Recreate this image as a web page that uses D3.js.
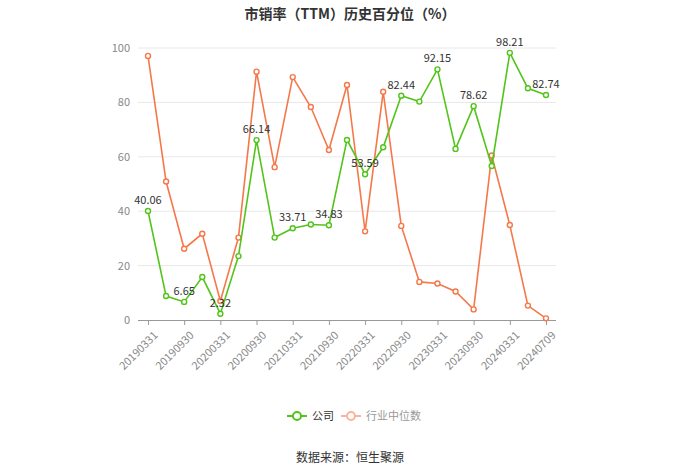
<!DOCTYPE html>
<html><head><meta charset="utf-8">
<script src="https://cdn.jsdelivr.net/npm/d3@7/dist/d3.min.js"></script>
<style>body{margin:0;background:#fff}svg{display:block;font-family:"Noto Sans CJK SC","Noto Sans",sans-serif}</style>
</head><body><svg id="c" width="700" height="474"></svg>
<script>
const dates = ["20190331","20190630","20190930","20191231","20200331","20200630","20200930","20201231","20210331","20210630","20210930","20211231","20220331","20220630","20220930","20221231","20230331","20230630","20230930","20231231","20240331","20240630","20240709"];
const company = [40.06,8.8,6.65,15.8,2.32,23.5,66.14,30.3,33.71,35.1,34.83,66.2,53.59,63.5,82.44,80.3,92.15,62.9,78.62,56.6,98.21,85.2,82.74];
const industry = [97.1,50.9,26.2,31.7,7.0,30.3,91.3,56.2,89.3,78.3,62.5,86.4,32.6,83.9,34.6,14.0,13.4,10.5,3.9,60.5,34.9,5.3,0.6];
const yTicks = [0,20,40,60,80,100];
const seriesNames = ["公司","行业中位数"];
const colors = ["#52c41a","#f5784a"];

(function(){
const svg = d3.select("#c");
const pl=148,pr=546,pt=48,pb=320;
const x = d3.scalePoint().domain(dates).range([pl,pr]);
const y = d3.scaleLinear().domain([0,100]).range([pb,pt]);

svg.append("text").attr("x",350).attr("y",19).attr("text-anchor","middle")
  .attr("font-size",14).attr("font-weight","bold").attr("fill","#333").text("市销率（TTM）历史百分位（%）");

// grid
svg.append("g").selectAll("line").data(yTicks.filter(d=>d>0)).join("line")
  .attr("x1",pl-10).attr("x2",pr+10).attr("y1",d=>y(d)).attr("y2",d=>y(d))
  .attr("stroke","#e8e8e8").attr("stroke-width",1);

// y axis labels
const ya = svg.append("g").attr("transform",`translate(${pl-10},0)`)
  .call(d3.axisLeft(y).tickValues(yTicks).tickSize(0).tickPadding(8));
ya.select(".domain").remove();
ya.selectAll("text").attr("font-size",11).attr("fill","#888").attr("font-family","'Noto Sans CJK SC','Noto Sans',sans-serif");

// x axis
const shown = dates.filter((d,i)=>i%2===0);
const xa = svg.append("g").attr("transform",`translate(0,${pb})`)
  .call(d3.axisBottom(x).tickValues(shown).tickSize(5).tickSizeOuter(0));
xa.select(".domain").attr("d",`M${pl-10},0.5H${pr+10}`).attr("stroke","#999");
xa.selectAll(".tick line").attr("stroke","#999");
xa.selectAll("text").attr("font-size",11).attr("fill","#888")
  .attr("font-family","'Noto Sans CJK SC','Noto Sans',sans-serif")
  .attr("text-anchor","end").attr("dy","0.3em")
  .attr("transform","translate(2,8) rotate(-45)");

const line = d3.line().x((d,i)=>x(dates[i])).y(d=>y(d));
[industry, company].forEach((data,k)=>{
  const c = k===0?colors[1]:colors[0];
  const g = svg.append("g");
  g.append("path").datum(data).attr("d",line).attr("fill","none").attr("stroke",c).attr("stroke-width",1.6);
  g.selectAll("circle").data(data).join("circle")
    .attr("cx",(d,i)=>x(dates[i])).attr("cy",d=>y(d)).attr("r",2.5)
    .attr("fill","#fff").attr("stroke",c).attr("stroke-width",1.4);
});

// labels
svg.append("g").selectAll("text").data(company.map((v,i)=>({v,i})).filter(d=>d.i%2===0)).join("text")
  .attr("x",d=>x(dates[d.i])).attr("y",d=>y(d.v)-7).attr("text-anchor","middle")
  .attr("font-size",11).attr("fill","#333").text(d=>d.v.toFixed(2));

// legend
const lg = svg.append("g").attr("transform","translate(0,416)");
const items=[{x:287,c:colors[0],t:seriesNames[0],tc:"#333",op:1},{x:341,c:colors[1],t:seriesNames[1],tc:"#999",op:0.55}];
items.forEach(it=>{
  const g=lg.append("g").attr("opacity",it.op);
  g.append("line").attr("x1",it.x).attr("x2",it.x+20).attr("y1",0).attr("y2",0).attr("stroke",it.c).attr("stroke-width",2);
  g.append("circle").attr("cx",it.x+10).attr("cy",0).attr("r",4).attr("fill","#fff").attr("stroke",it.c).attr("stroke-width",2);
  lg.append("text").attr("x",it.x+25).attr("y",4).attr("font-size",11).attr("fill",it.tc).text(it.t);
});

svg.append("text").attr("x",350).attr("y",462).attr("text-anchor","middle")
  .attr("font-size",12).attr("fill","#333").text("数据来源：恒生聚源");
})();
</script></body></html>
